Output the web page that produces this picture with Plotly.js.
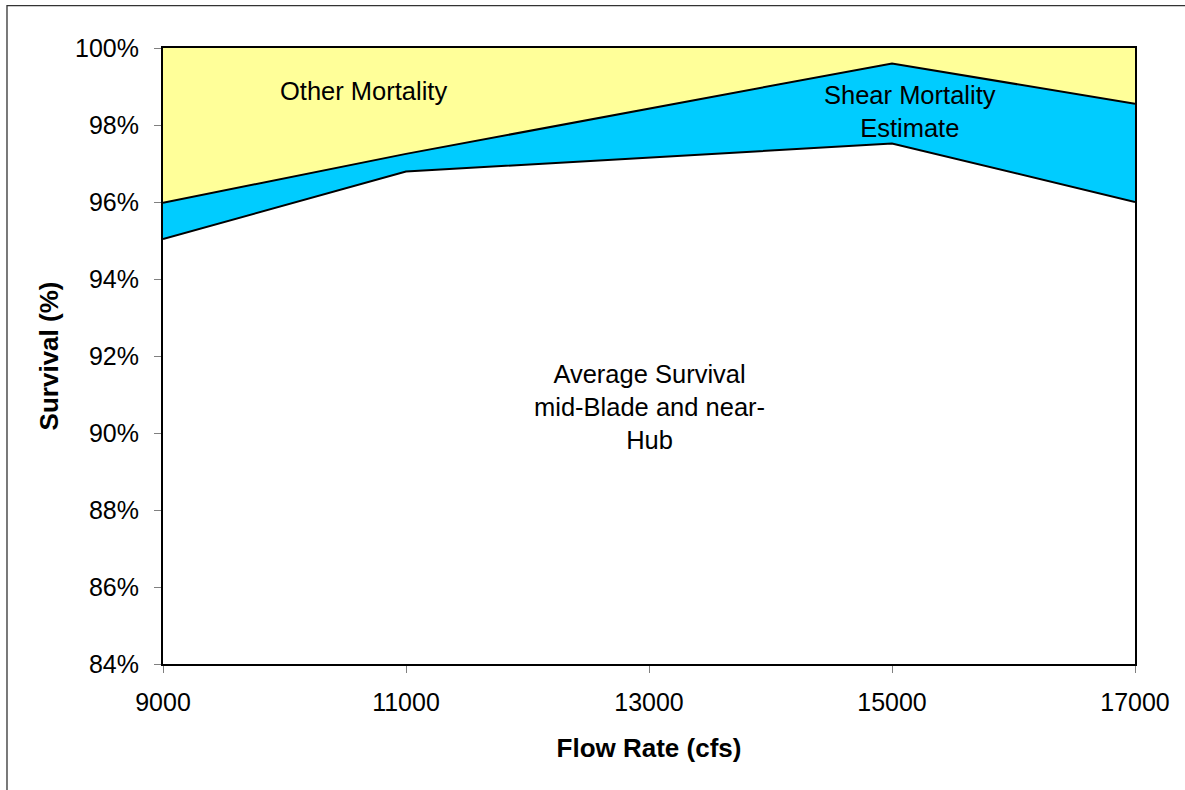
<!DOCTYPE html>
<html>
<head>
<meta charset="utf-8">
<script src="https://cdn.plot.ly/plotly-3.0.1.min.js"></script>
<style>
  html, body { margin: 0; padding: 0; background: #ffffff; }
  #chart { width: 1185px; height: 790px; }
</style>
</head>
<body>
<div id="chart"></div>
<script>
// Flow rates tested (cfs)
const flowRates = [9000, 11000, 15000, 17000];
// Average survival, mid-blade and near-hub releases (%)
const averageSurvival = [95.04, 96.79, 97.52, 96.00];
// Estimated shear mortality stacked above survival (%)
const shearMortality = [0.94, 0.46, 2.08, 2.55];
// Remaining mortality up to 100% (%)
const otherMortality = flowRates.map((_, i) =>
  +(100 - averageSurvival[i] - shearMortality[i]).toFixed(2));

const yTicks = [84, 86, 88, 90, 92, 94, 96, 98, 100];
const yTickLabels = ['84%', '86%', '88%', '90%', '92%', '94%', '96%', '98%', '100%'];
const xTicks = [9000, 11000, 13000, 15000, 17000];
const xTickLabels = ['9000', '11000', '13000', '15000', '17000'];

const FONT = 'Liberation Sans, Arial, sans-serif';

const traces = [
  {
    x: flowRates, y: averageSurvival, type: 'scatter', mode: 'lines',
    stackgroup: 'band', fillcolor: '#ffffff',
    line: { color: '#000000', width: 2 }, hoverinfo: 'skip'
  },
  {
    x: flowRates, y: shearMortality, type: 'scatter', mode: 'lines',
    stackgroup: 'band', fillcolor: '#00CCFF',
    line: { color: '#000000', width: 2 }, hoverinfo: 'skip'
  },
  {
    x: flowRates, y: otherMortality, type: 'scatter', mode: 'lines',
    stackgroup: 'band', fillcolor: '#FFFF99',
    line: { color: '#000000', width: 0 }, hoverinfo: 'skip'
  }
];

const layout = {
  width: 1185, height: 790,
  margin: { l: 163, r: 50, t: 48, b: 126, pad: 0 },
  paper_bgcolor: '#ffffff', plot_bgcolor: '#ffffff',
  showlegend: false,
  font: { family: FONT, size: 25, color: '#000000' },
  xaxis: {
    range: [9000, 17000], tickmode: 'array', tickvals: xTicks, ticktext: xTickLabels,
    showgrid: false, zeroline: false,
    showline: true, linecolor: '#000000', linewidth: 2, mirror: true,
    ticks: 'outside', ticklen: 7, tickcolor: '#808080', tickwidth: 1,
    ticklabelstandoff: 8,
    tickfont: { family: FONT, size: 25 },
    title: { text: 'Flow Rate (cfs)', font: { family: FONT, size: 26, weight: 'bold' }, standoff: 24 }
  },
  yaxis: {
    range: [84, 100], tickmode: 'array', tickvals: yTicks, ticktext: yTickLabels,
    showgrid: false, zeroline: false,
    showline: true, linecolor: '#000000', linewidth: 2, mirror: true,
    ticks: 'outside', ticklen: 7, tickcolor: '#808080', tickwidth: 1,
    ticklabelstandoff: 10,
    tickfont: { family: FONT, size: 25 },
    title: { text: 'Survival (%)', font: { family: FONT, size: 26, weight: 'bold' }, standoff: 9 }
  },
  annotations: [
    { x: 10652, y: 98.88, xref: 'x', yref: 'y', text: 'Other Mortality',
      showarrow: false, font: { family: FONT, size: 25.5 } },
    { x: 15148, y: 98.36, xref: 'x', yref: 'y', text: 'Shear Mortality<br>Estimate',
      showarrow: false, font: { family: FONT, size: 25.5 } },
    { x: 13000, y: 90.68, xref: 'x', yref: 'y', text: 'Average Survival<br>mid-Blade and near-<br>Hub',
      showarrow: false, font: { family: FONT, size: 25.5 } }
  ],
  shapes: [
    { type: 'rect', xref: 'paper', yref: 'paper',
      x0: -0.1605, x1: 1.2, y0: -0.4, y1: 1.0687,
      line: { color: '#333333', width: 1.3 }, fillcolor: 'rgba(0,0,0,0)', layer: 'below' }
  ]
};

Plotly.newPlot('chart', traces, layout, { displayModeBar: false, staticPlot: true });
</script>
</body>
</html>
